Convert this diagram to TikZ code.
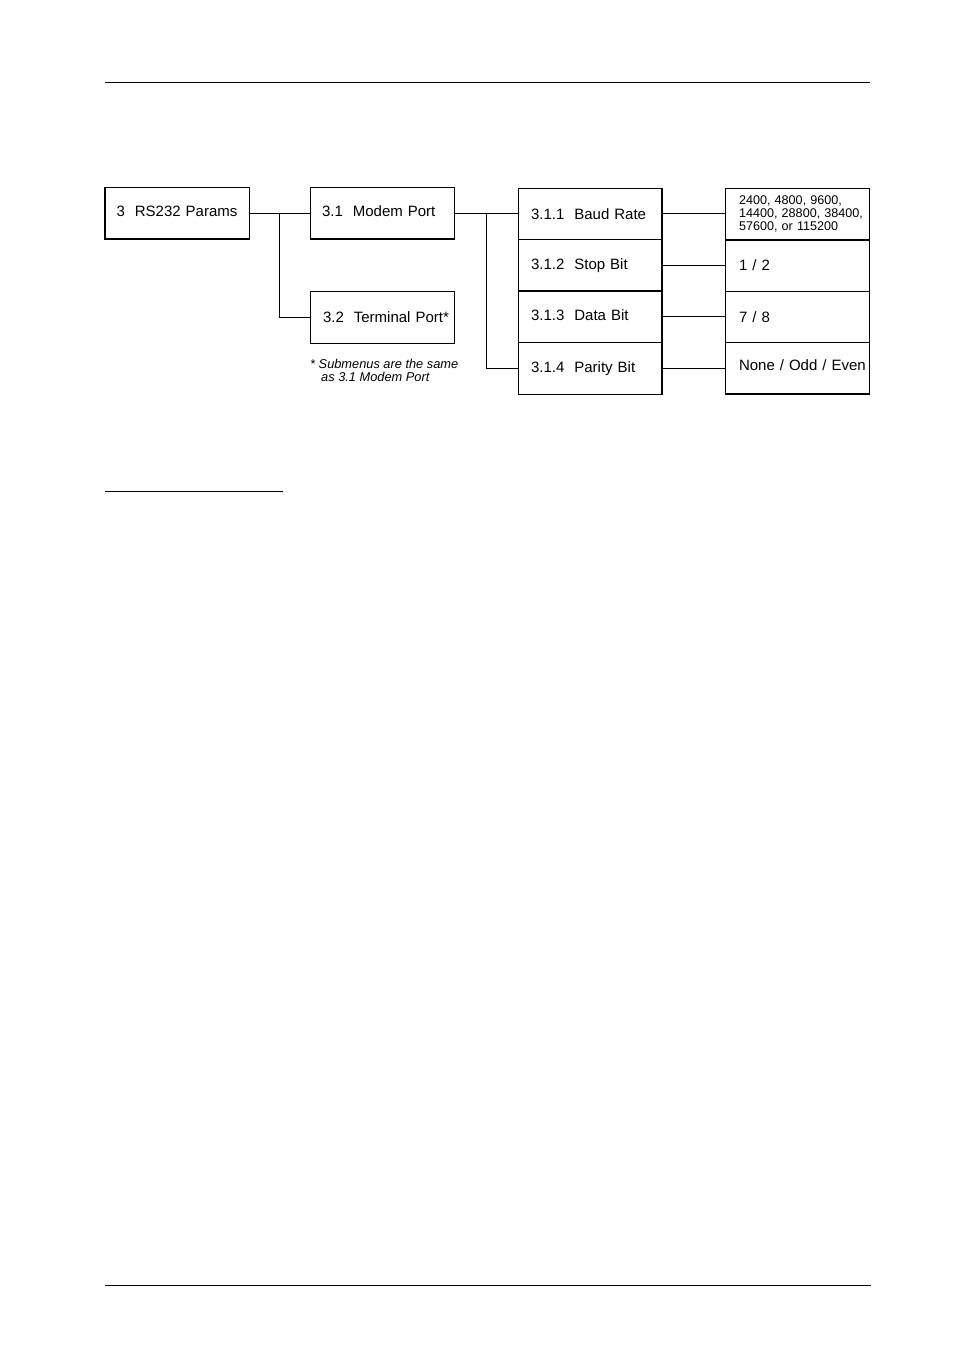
\documentclass[tikz,border=0pt]{standalone}
\usepackage{fontspec}
\setmainfont{Liberation Sans}
\usetikzlibrary{positioning}
\tikzset{
  menubox/.style={draw, line width=1pt, outer sep=0pt, minimum width=144pt,
    minimum height=52pt, text width=120pt, inner xsep=12pt, inner ysep=0pt,
    align=left, font=\fontsize{15}{18}\selectfont},
  subbox/.style={menubox, minimum height=51.5pt, text width=118pt, inner xsep=13pt},
  valbox/.style={menubox, minimum height=51.5pt, text width=116pt, inner xsep=14pt},
  link/.style={line width=1pt},
  heavy/.style={line width=2pt},
  rule/.style={line width=1pt},
}
\begin{document}
\begin{tikzpicture}[x=1pt, y=-1pt]
  \useasboundingbox (0,0) rectangle (954,1369);
  % page rules
  \draw[rule] (105,82) -- (870,82);
  \draw[rule] (105,491) -- (283,491);
  \draw[rule] (105,1285) -- (871,1285);
  % menu levels
  \node[menubox, anchor=north west, inner xsep=11pt, text width=121pt, text depth=4pt] (rs232) at (105,187) {3~~RS232~Params};
  \node[menubox, anchor=north west, text depth=4pt] (modem) at (310,187) {3.1~~Modem~Port};
  \node[menubox, anchor=north west, inner xsep=13pt, text width=118pt] (terminal) at (310,291) {\mbox{3.2~~Terminal~Port*}};
  \node[anchor=north west, inner sep=0pt, align=left, font=\fontsize{12.8}{13}\selectfont\itshape] (note) at (310,359.5)
    {\mbox{*~Submenus~are~the~same}\\\hspace*{11pt}as~3.1~Modem~Port};
  % submenus of 3.1
  \node[subbox, anchor=north west] (baud) at (518,188) {3.1.1~~Baud~Rate};
  \node[subbox, below=0pt of baud] (stop) {3.1.2~~Stop~Bit};
  \node[subbox, below=0pt of stop, text depth=4pt] (data) {3.1.3~~Data~Bit};
  \node[subbox, below=0pt of data] (parity) {3.1.4~~Parity~Bit};
  % values
  \node[valbox, anchor=north west, font=\fontsize{12.6}{13}\selectfont] (rates) at (725,188)
    {\mbox{2400,~4800,~9600,}\\\mbox{14400,~28800,~38400,}\\\mbox{57600,~or~115200}};
  \node[valbox, below=0pt of rates] (stopval) {1~/~2};
  \node[valbox, below=0pt of stopval] (dataval) {7~/~8};
  \node[valbox, below=0pt of dataval, text depth=6pt] (parityval) {\mbox{None~/~Odd~/~Even}};
  % heavier edges
  \draw[heavy] (rs232.north west) -- (rs232.south west) -- (rs232.south east);
  \draw[heavy] (modem.south west) -- (modem.south east);
  \draw[heavy] (baud.north east) -- (parity.south east);
  \draw[heavy] (stop.south west) -- (stop.south east);
  \draw[heavy] (rates.south west) -- (rates.south east);
  \draw[heavy] (parityval.south west) -- (parityval.south east);
  % connectors
  \coordinate (j1) at (279,213);
  \draw[link] (rs232.east) -- (modem.west);
  \draw[link] (j1) |- (terminal.west);
  \draw[link] (modem.east) -- (modem.east -| baud.west);
  \coordinate (j2) at (486,213);
  \draw[link] (j2) |- (parity.west);
  \draw[link] (baud.east) -- (baud.east -| rates.west);
  \draw[link] (stop.east) -- (stop.east -| stopval.west);
  \draw[link] (data.east) -- (data.east -| dataval.west);
  \draw[link] (parity.east) -- (parity.east -| parityval.west);
\end{tikzpicture}
\end{document}
